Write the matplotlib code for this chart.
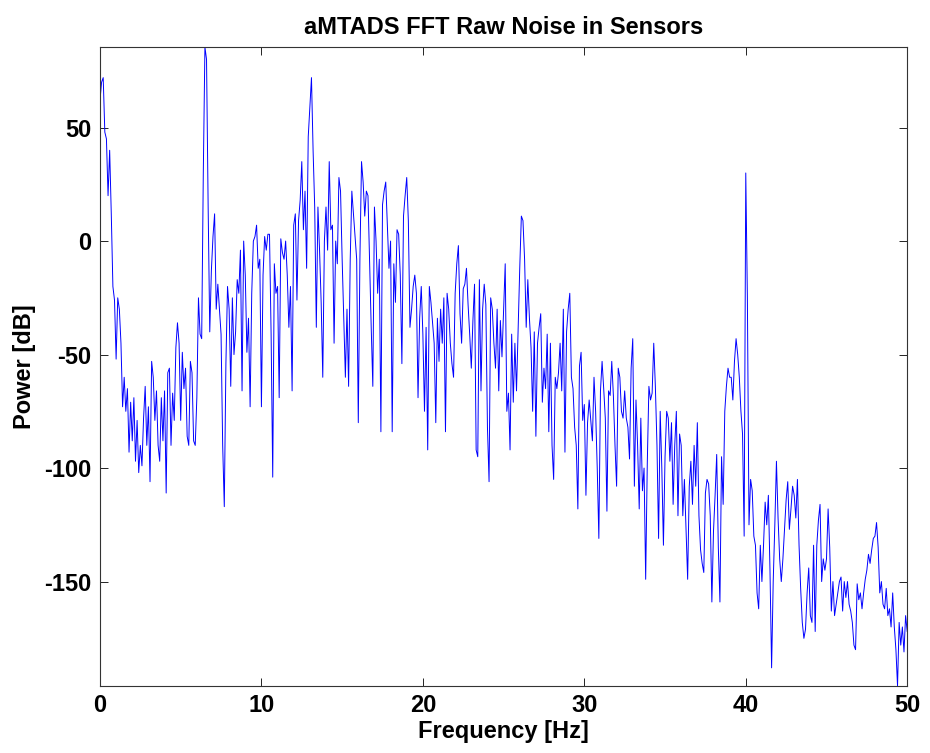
import numpy as np
import matplotlib
matplotlib.use("Agg")
import matplotlib.pyplot as plt

# FFT power spectrum, one value every 0.1 Hz
power_00_10 = [
    62, 70, 72, 48, 45, 20, 40, 12, -20, -26,
    -52, -25, -30, -45, -73, -60, -75, -65, -93, -71,
    -88, -69, -97, -79, -102, -90, -99, -78, -64, -90,
    -73, -106, -53, -60, -79, -66, -90, -97, -69, -88,
    -66, -111, -58, -56, -90, -67, -79, -47, -36, -45,
    -79, -49, -65, -56, -86, -90, -53, -58, -88, -90,
    -69, -25, -41, -43, 30, 85.5, 80, 15, -40, -13,
    2, 12, -30, -19, -30, -41, -90, -117, -54, -20,
    -30, -64, -25, -50, -40, -17, -23, -4, -66, 0,
    -15, -49, -34, -73, -23, 0, 2, 7, -12, -8,
]
power_10_20 = [
    -73, -15, 2, -4, 3, 3, -41, -104, -10, -23,
    -20, -69, 1, -5, -8, 0, -15, -38, -20, -66,
    7, 12, -26, 9, 18, 35, 5, 22, -12, 46,
    59, 72, 40, 15, -38, 15, -4, -27, -60, 0,
    15, -4, 35, 5, 7, -45, 0, -10, 28, 22,
    -8, -34, -60, -30, -64, -8, 22, 12, 2, -8,
    -80, -8, 35, 26, 11, 22, 20, -10, -38, -64,
    15, 0, -23, -8, -84, 16, 22, 26, 7, -12,
    0, -84, -10, -27, 5, 3, -15, -54, 11, 20,
    28, 9, -38, -30, -20, -15, -23, -69, -34, -20,
]
power_20_30 = [
    -41, -75, -38, -92, -20, -27, -36, -45, -80, -34,
    -53, -30, -45, -25, -84, -23, -30, -45, -54, -60,
    -23, -10, -2, -32, -45, -21, -19, -12, -28, -41,
    -56, -35, -19, -92, -95, -17, -66, -30, -19, -28,
    -82, -106, -25, -30, -45, -56, -30, -66, -35, -51,
    -30, -10, -75, -67, -92, -41, -71, -45, -66, -39,
    -12, 11, 9, -8, -38, -17, -34, -47, -75, -40,
    -86, -45, -38, -32, -71, -56, -65, -41, -84, -45,
    -90, -105, -60, -65, -58, -45, -66, -30, -93, -40,
    -30, -23, -60, -65, -82, -90, -118, -55, -49, -79,
]
power_30_40 = [
    -72, -112, -80, -70, -79, -88, -60, -75, -100, -131,
    -66, -53, -65, -78, -119, -66, -68, -53, -68, -90,
    -108, -56, -60, -75, -78, -66, -78, -82, -96, -56,
    -43, -108, -70, -90, -118, -78, -110, -100, -149, -98,
    -64, -70, -67, -45, -64, -90, -131, -75, -100, -134,
    -95, -75, -78, -97, -80, -116, -90, -75, -121, -85,
    -90, -121, -105, -127, -149, -108, -97, -116, -90, -108,
    -80, -121, -136, -142, -146, -111, -105, -107, -121, -159,
    -128, -112, -94, -135, -159, -95, -116, -75, -64, -56,
    -60, -60, -70, -53, -43, -50, -60, -75, -85, -130,
]
power_40_50 = [
    30, -25, -125, -105, -110, -130, -134, -155, -162, -134,
    -150, -134, -115, -125, -112, -145, -188, -150, -125, -97,
    -122, -140, -150, -140, -127, -114, -106, -127, -118, -108,
    -112, -122, -105, -134, -153, -168, -175, -171, -155, -144,
    -165, -168, -134, -172, -134, -123, -116, -150, -140, -145,
    -140, -118, -135, -163, -150, -165, -160, -155, -150, -148,
    -163, -150, -157, -150, -160, -163, -168, -178, -180, -151,
    -158, -155, -162, -155, -149, -145, -138, -142, -136, -131,
    -130, -124, -135, -155, -150, -160, -162, -153, -165, -162,
    -170, -155, -170, -180, -196, -168, -178, -170, -181, -165,
    -172,
]

power = np.array(power_00_10 + power_10_20 + power_20_30 + power_30_40 + power_40_50, dtype=float)
freq = np.arange(len(power)) * 0.1

x_ticks = [0, 10, 20, 30, 40, 50]
y_ticks = [-150, -100, -50, 0, 50]

plt.rcParams["font.family"] = ["Liberation Sans", "DejaVu Sans"]
plt.rcParams["font.weight"] = "bold"
plt.rcParams["axes.unicode_minus"] = False

fig = plt.figure(figsize=(9.3, 7.53), dpi=100, facecolor="white")
ax = fig.add_axes([0.1075, 0.089, 0.868, 0.8486])

ax.plot(freq, power, color="#0000ff", linewidth=0.7)

ax.set_xlim(0, 50)
ax.set_ylim(power.min(), power.max())
ax.set_xticks(x_ticks)
ax.set_yticks(y_ticks)
ax.tick_params(direction="in", length=5.5, width=0.6, top=True, right=True,
               labelsize=17, pad=6, colors="black")
for label in ax.get_xticklabels() + ax.get_yticklabels():
    label.set_fontweight("bold")
for spine in ax.spines.values():
    spine.set_linewidth(0.8)
    spine.set_color("#333333")

ax.set_xlabel("Frequency [Hz]", fontsize=17, fontweight="bold", labelpad=2)
ax.set_ylabel("Power [dB]", fontsize=17, fontweight="bold", labelpad=6)
ax.set_title("aMTADS FFT Raw Noise in Sensors", fontsize=17, fontweight="bold", pad=9)

fig.savefig("out.png", dpi=100)
